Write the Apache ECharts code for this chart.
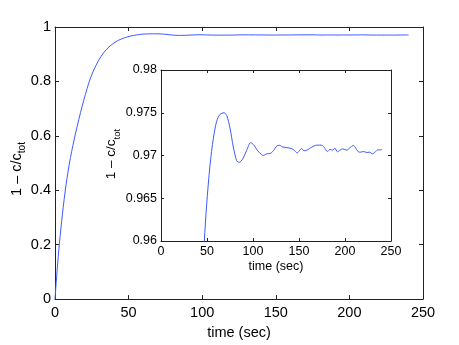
<!DOCTYPE html>
<html>
<head>
<meta charset="utf-8">
<script src="https://cdn.jsdelivr.net/npm/echarts@6.0.0/dist/echarts.min.js"></script>
<style>
html,body{margin:0;padding:0;background:#fff;}
#chart{width:459px;height:345px;}
</style>
</head>
<body>
<div id="chart"></div>
<script>
// time (sec)
var times = [0, 1.5, 3, 5, 7.5, 10.5, 14, 18.5, 23, 26, 29.7, 33, 36.5, 40, 43,
  47.1, 49.6, 53.3, 56.9, 60.5, 64.1, 68.5, 71.4, 75, 78.6, 82.2, 85.1, 88.8, 93.1, 97.5,
  101.1, 104.7, 109.4, 111.2, 114.9, 118.5, 122.1, 125.7, 128.6, 132.2, 140.2, 143.8,
  148.2, 151.1, 152.9, 155.4, 159.1, 163.8, 169.2, 174.6, 178.3, 180.8, 183.7, 186.6,
  189.1, 191.7, 194.6, 197.5, 201.8, 206.2, 209.1, 212, 214.5, 217, 220, 223.6, 226.4,
  230, 233, 235.5, 238, 240.2];
// 1 - c/c_tot
var values = [0, 0.11, 0.205, 0.31, 0.42, 0.52, 0.61, 0.71, 0.795, 0.838, 0.878, 0.905, 0.926, 0.941, 0.951,
  0.9600, 0.9642, 0.9689, 0.9720, 0.9740, 0.9748, 0.9750, 0.9747, 0.9732, 0.9710, 0.9694, 0.9692, 0.9696, 0.9706, 0.9715,
  0.9712, 0.9706, 0.9701, 0.9700, 0.9702, 0.97023, 0.97055, 0.9711, 0.9712, 0.9710, 0.97086, 0.9707,
  0.97031, 0.97066, 0.97082, 0.97055, 0.97066, 0.97098, 0.97121, 0.97121, 0.97082, 0.97047, 0.9707, 0.97063,
  0.97086, 0.97043, 0.97063, 0.97078, 0.97063, 0.97098, 0.97117, 0.97082, 0.97043, 0.97039, 0.97047, 0.97035, 0.97039,
  0.9702, 0.97043, 0.97066, 0.97066, 0.9707];
var mainXTicks = [0, 250, 50];   // min, max, interval
var mainYTicks = [0, 1, 0.2];
var insetXTicks = [0, 250, 50];
var insetYTicks = [0.96, 0.98, 0.005];

var xName = 'time (sec)';
var yLabelMain = '1 – c/c';
var yLabelSub = 'tot';

var pts = times.map(function (t, i) { return [t, values[i]]; });

var FONT = 'Liberation Sans, Arial, Helvetica, sans-serif';
var LINE = '#222';
var BLUE = 'rgb(60,90,255)';

function xAxisPair(gi, ticks, fs, showName, nameGap) {
  return [{
    type: 'value', gridIndex: gi, position: 'bottom', min: ticks[0], max: ticks[1], interval: ticks[2],
    name: showName ? xName : '', nameLocation: 'middle', nameGap: nameGap,
    nameTextStyle: {fontFamily: FONT, fontSize: fs, color: '#000'},
    axisLine: {show: true, onZero: false, lineStyle: {color: LINE, width: 1}},
    axisTick: {show: true, inside: true, length: gi === 0 ? 4 : 3, lineStyle: {color: LINE}},
    axisLabel: {show: true, fontFamily: FONT, fontSize: fs, color: '#000', margin: gi === 0 ? 6 : 4},
    splitLine: {show: false}
  }, {
    type: 'value', gridIndex: gi, position: 'top', min: ticks[0], max: ticks[1], interval: ticks[2],
    axisLine: {show: true, onZero: false, lineStyle: {color: LINE, width: 1}},
    axisTick: {show: true, inside: true, length: gi === 0 ? 4 : 3, lineStyle: {color: LINE}},
    axisLabel: {show: false}, splitLine: {show: false}
  }];
}
function yAxisPair(gi, ticks, fs) {
  return [{
    type: 'value', gridIndex: gi, position: 'left', min: ticks[0], max: ticks[1], interval: ticks[2],
    axisLine: {show: true, onZero: false, lineStyle: {color: LINE, width: 1}},
    axisTick: {show: true, inside: true, length: gi === 0 ? 4 : 3, lineStyle: {color: LINE}},
    axisLabel: {show: true, fontFamily: FONT, fontSize: fs, color: '#000', margin: 4},
    splitLine: {show: false}
  }, {
    type: 'value', gridIndex: gi, position: 'right', min: ticks[0], max: ticks[1], interval: ticks[2],
    axisLine: {show: true, onZero: false, lineStyle: {color: LINE, width: 1}},
    axisTick: {show: true, inside: true, length: gi === 0 ? 4 : 3, lineStyle: {color: LINE}},
    axisLabel: {show: false}, splitLine: {show: false}
  }];
}

var chart = echarts.init(document.getElementById('chart'), null, {renderer: 'canvas'});
var option = {
  animation: false,
  backgroundColor: '#fff',
  grid: [
    {left: 55, top: 27, width: 368, height: 276, show: false},
    {left: 161, top: 70, width: 230, height: 171, show: true, backgroundColor: '#fff', borderWidth: 0}
  ],
  xAxis: xAxisPair(0, mainXTicks, 14.5, true, 22).concat(xAxisPair(1, insetXTicks, 12.5, true, 19)),
  yAxis: yAxisPair(0, mainYTicks, 14.5).concat(yAxisPair(1, insetYTicks, 12.5)),
  series: [
    {type: 'line', xAxisIndex: 0, yAxisIndex: 0, data: pts, showSymbol: false, smooth: 0.3,
     lineStyle: {color: BLUE, width: 1}, clip: true, z: 2},
    {type: 'line', xAxisIndex: 2, yAxisIndex: 2, data: pts, showSymbol: false, smooth: 0.3,
     lineStyle: {color: BLUE, width: 1}, clip: true, z: 5}
  ],
  graphic: [
    {type: 'text', x: 22.5, y: 169, rotation: Math.PI / 2, z: 100,
     style: {text: '{a|' + yLabelMain + '}{b|' + yLabelSub + '}', align: 'center', verticalAlign: 'middle',
       rich: {a: {fontFamily: FONT, fontSize: 14.5, lineHeight: 16, verticalAlign: 'top', fill: '#000'},
              b: {fontFamily: FONT, fontSize: 10, lineHeight: 27, verticalAlign: 'middle', fill: '#000'}}}},
    {type: 'text', x: 117, y: 154, rotation: Math.PI / 2, z: 100,
     style: {text: '{a|' + yLabelMain + '}{b|' + yLabelSub + '}', align: 'center', verticalAlign: 'middle',
       rich: {a: {fontFamily: FONT, fontSize: 13.5, lineHeight: 15, verticalAlign: 'top', fill: '#000'},
              b: {fontFamily: FONT, fontSize: 9.5, lineHeight: 25, verticalAlign: 'middle', fill: '#000'}}}}
  ]
};
chart.setOption(option);
</script>
</body>
</html>
